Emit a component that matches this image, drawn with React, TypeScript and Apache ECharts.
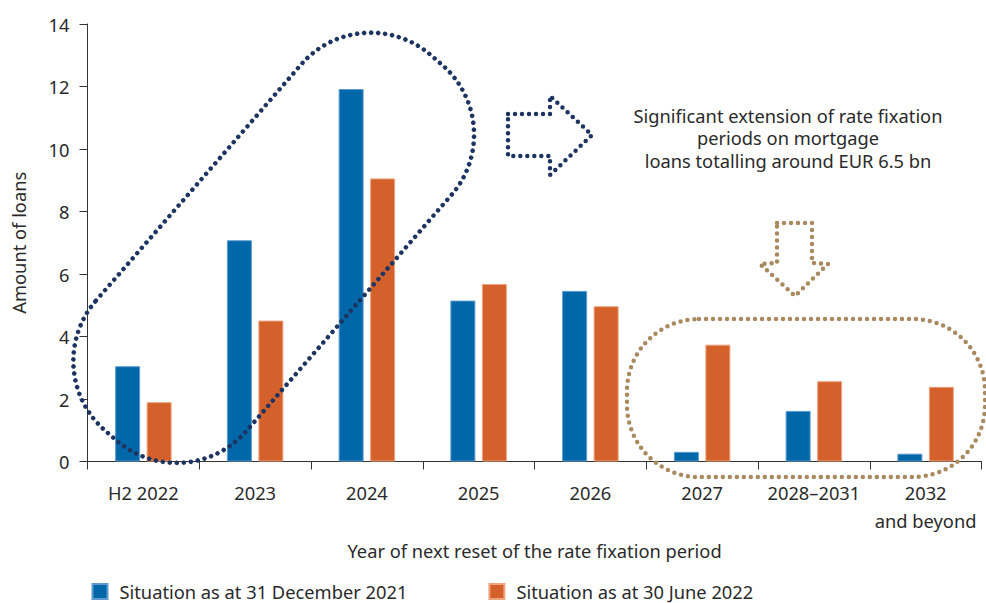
import React, { useEffect, useRef } from "react";
import * as echarts from "echarts";

const categories = ["H2 2022", "2023", "2024", "2025", "2026", "2027", "2028–2031", "2032\nand beyond"];
const dec2021 = [3.05, 7.08, 11.92, 5.15, 5.46, 0.31, 1.62, 0.25];
const jun2022 = [1.9, 4.51, 9.06, 5.68, 4.97, 3.74, 2.57, 2.39];
const seriesNames = ["Situation as at 31 December 2021", "Situation as at 30 June 2022"];
const yTicks = { min: 0, max: 14, interval: 2 };
const noteLines = [
  "Significant extension of rate fixation",
  "periods on mortgage",
  "loans totalling around EUR 6.5 bn",
];

const FONT = "Noto Sans";
const FS = 18.3;
const TEXT = "#2a2a2a";
const BLUE = "#0067a9";
const ORANGE = "#d4612b";
const NAVY = "#1d3461";
const BROWN = "#a98a5f";

export default function App() {
  const ref = useRef<HTMLDivElement>(null);
  useEffect(() => {
    if (!ref.current) return;
    const chart = echarts.init(ref.current, null, { renderer: "svg" });
    const dots = (color: string) => ({
      fill: "none",
      stroke: color,
      lineWidth: 4.5,
      lineDash: [0, 7],
      lineCap: "round",
    });
    chart.setOption({
      animation: false,
      textStyle: { fontFamily: FONT, color: TEXT },
      grid: { left: 87.5, right: 4.5, top: 24, bottom: 141.5, containLabel: false },
      legend: {
        left: 86.5,
        top: 577.5,
        itemWidth: 15,
        itemHeight: 15,
        itemGap: 81,
        icon: "rect",
        textStyle: { fontFamily: FONT, fontSize: FS, color: TEXT, padding: [0, 0, 0, 7] },
        data: seriesNames,
      },
      xAxis: {
        type: "category",
        data: categories,
        name: "Year of next reset of the rate fixation period",
        nameLocation: "middle",
        nameGap: 80,
        nameTextStyle: { fontFamily: FONT, fontSize: FS, color: TEXT },
        axisLine: { lineStyle: { color: "#333", width: 1 } },
        axisTick: { show: true, length: 8, lineStyle: { color: "#333" } },
        axisLabel: { interval: 0, fontFamily: FONT, fontSize: FS, color: TEXT, margin: 17, lineHeight: 28 },
      },
      yAxis: {
        type: "value",
        min: yTicks.min,
        max: yTicks.max,
        interval: yTicks.interval,
        name: "Amount of loans",
        nameLocation: "middle",
        nameGap: 60,
        nameTextStyle: { fontFamily: FONT, fontSize: FS, color: TEXT },
        axisLine: { show: true, lineStyle: { color: "#333", width: 1 } },
        axisTick: { show: true, length: 8, lineStyle: { color: "#333" } },
        axisLabel: { fontFamily: FONT, fontSize: FS, color: TEXT, margin: 18 },
        splitLine: { show: false },
      },
      series: [
        {
          name: seriesNames[0],
          type: "bar",
          data: dec2021,
          barWidth: 25,
          barGap: "26%",
          itemStyle: { color: BLUE, borderColor: "#5d9bcf", borderWidth: 1 },
        },
        {
          name: seriesNames[1],
          type: "bar",
          data: jun2022,
          barWidth: 25,
          itemStyle: { color: ORANGE, borderColor: "#eea47f", borderWidth: 1 },
        },
      ],
      graphic: [
        {
          type: "rect",
          x: 273.7,
          y: 247.8,
          rotation: (49 * Math.PI) / 180,
          z: 100,
          shape: { x: -248.5, y: -99.5, width: 497, height: 199, r: 92 },
          style: dots(NAVY),
        },
        {
          type: "polygon",
          z: 100,
          shape: {
            points: [
              [508, 114], [550, 114], [550, 96], [592, 135], [550, 175], [550, 156], [508, 156],
            ],
          },
          style: dots(NAVY),
        },
        {
          type: "rect",
          z: 100,
          shape: { x: 627, y: 319, width: 358, height: 158, r: 72 },
          style: dots(BROWN),
        },
        {
          type: "polygon",
          z: 100,
          shape: {
            points: [
              [777, 223], [812, 223], [812, 263], [828, 264], [795, 296], [760, 264], [777, 263],
            ],
          },
          style: dots(BROWN),
        },
        {
          type: "text",
          z: 100,
          x: 788,
          y: 137.5,
          style: {
            text: noteLines.join("\n"),
            fontFamily: FONT,
            fontSize: FS,
            lineHeight: 22.5,
            fill: TEXT,
            textAlign: "center",
            textVerticalAlign: "middle",
          },
        },
      ],
    });
    return () => chart.dispose();
  }, []);
  return <div ref={ref} style={{ width: 986, height: 603, position: "absolute", left: 0, top: 0 }} />;
}
